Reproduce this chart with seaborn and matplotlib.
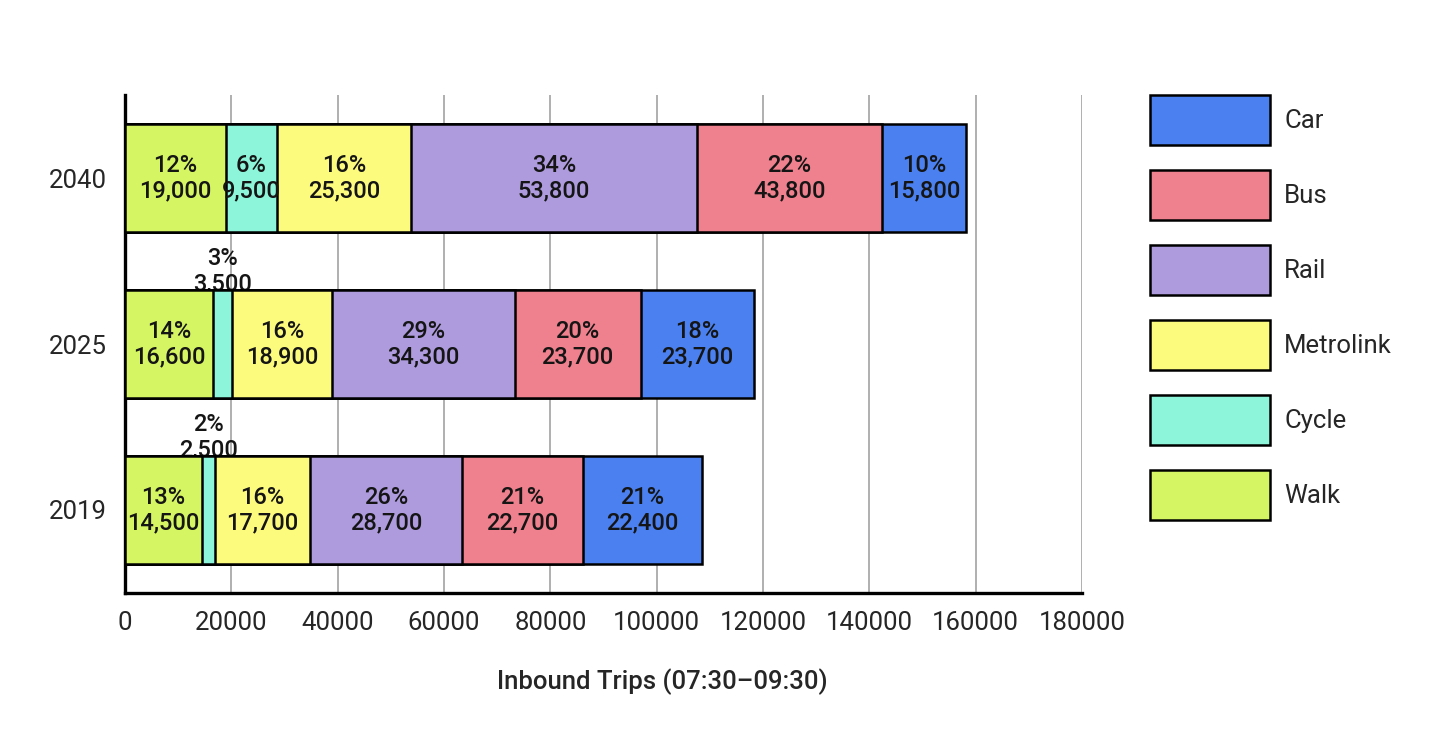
import matplotlib
matplotlib.use("Agg")
import matplotlib.pyplot as plt
import seaborn as sns
import pandas as pd
import numpy as np
from matplotlib.patches import Patch

years = ["2040", "2025", "2019"]
modes = ["Walk", "Cycle", "Metrolink", "Rail", "Bus", "Car"]

# trips per mode (bar lengths as drawn)
walk = [19000, 16600, 14500]
cycle = [9500, 3500, 2500]
metrolink = [25300, 18900, 17700]
rail = [53800, 34300, 28700]
bus = [34800, 23700, 22700]
car = [15800, 21400, 22400]

# printed labels
walk_pct = ["12%", "14%", "13%"]
cycle_pct = ["6%", "3%", "2%"]
metrolink_pct = ["16%", "16%", "16%"]
rail_pct = ["34%", "29%", "26%"]
bus_pct = ["22%", "20%", "21%"]
car_pct = ["10%", "18%", "21%"]

walk_lbl = ["19,000", "16,600", "14,500"]
cycle_lbl = ["9,500", "3,500", "2,500"]
metrolink_lbl = ["25,300", "18,900", "17,700"]
rail_lbl = ["53,800", "34,300", "28,700"]
bus_lbl = ["43,800", "23,700", "22,700"]
car_lbl = ["15,800", "23,700", "22,400"]

colors = {
    "Walk": "#d5f562",
    "Cycle": "#8cf5da",
    "Metrolink": "#fdfb7e",
    "Rail": "#ae9bde",
    "Bus": "#ef808d",
    "Car": "#4a80f0",
}

values = {"Walk": walk, "Cycle": cycle, "Metrolink": metrolink,
          "Rail": rail, "Bus": bus, "Car": car}
pcts = {"Walk": walk_pct, "Cycle": cycle_pct, "Metrolink": metrolink_pct,
        "Rail": rail_pct, "Bus": bus_pct, "Car": car_pct}
lbls = {"Walk": walk_lbl, "Cycle": cycle_lbl, "Metrolink": metrolink_lbl,
        "Rail": rail_lbl, "Bus": bus_lbl, "Car": car_lbl}

df = pd.DataFrame({"year": years, **values})
cum = df[modes].cumsum(axis=1)
cum["year"] = years

sns.set_style("white")
plt.rcParams["font.family"] = ["Roboto", "DejaVu Sans"]

fig = plt.figure(figsize=(14.56, 7.36), dpi=100)
ax = fig.add_axes([0.0859, 0.1943, 0.6572, 0.6766])

bar_h = 0.65
# draw cumulative totals from the right-most mode backwards
for m in reversed(modes):
    sns.barplot(data=cum, x=m, y="year", order=years, orient="h",
                color=colors[m], width=bar_h, edgecolor="black",
                linewidth=1.8, saturation=1, ax=ax, zorder=3)

lab_kw = dict(ha="center", fontsize=17, fontweight="medium",
              linespacing=1.12, color="#151515")
for i, yr in enumerate(years):
    left = 0
    for m in modes:
        v = values[m][i]
        txt = f"{pcts[m][i]}\n{lbls[m][i]}"
        if v < 5000:
            ax.text(left + v / 2, i - bar_h / 2 + 0.03, txt, va="bottom",
                    zorder=2, **lab_kw)
        else:
            ax.text(left + v / 2, i, txt, va="center", zorder=4, **lab_kw)
        left += v

ax.set_xlim(0, 180000)
ax.set_ylim(2.5, -0.5)
ax.set_xticks(np.arange(0, 180001, 20000))
ax.set_xticklabels([str(t) for t in range(0, 180001, 20000)])
ax.grid(axis="x", color="#9a9a9a", linewidth=1.1, zorder=0)
ax.set_axisbelow(True)
ax.tick_params(axis="both", length=0, labelsize=18.5, pad=13)
ax.set_ylabel("")
ax.set_xlabel("Inbound Trips (07:30\u201309:30)", fontsize=18.5,
              fontweight="medium")
ax.xaxis.set_label_coords(0.561, -0.151)

for s in ["top", "right"]:
    ax.spines[s].set_visible(False)
for s in ["left", "bottom"]:
    ax.spines[s].set_color("black")
    ax.spines[s].set_linewidth(2.4)

handles = [Patch(facecolor=colors[m], edgecolor="black", linewidth=1.8, label=m)
           for m in reversed(modes)]
fig.legend(handles=handles, loc="upper left", bbox_to_anchor=(0.79, 0.871),
           frameon=False, fontsize=18.5, handlelength=4.67, handleheight=2.62,
           labelspacing=0.97, handletextpad=0.55, borderpad=0, borderaxespad=0)

fig.savefig("out.png", dpi=100, facecolor="white")
